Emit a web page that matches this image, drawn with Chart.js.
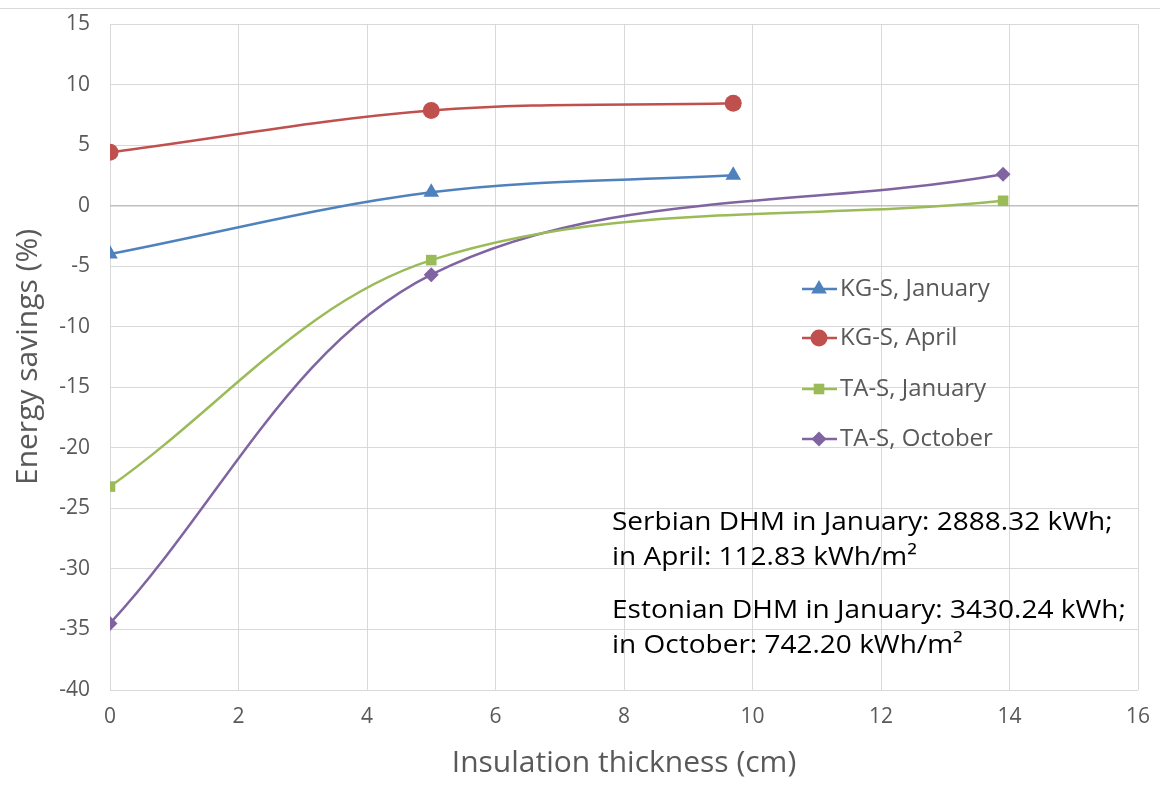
<!DOCTYPE html>
<html>
<head>
<meta charset="utf-8">
<script src="https://cdn.jsdelivr.net/npm/chart.js@4.4.0/dist/chart.umd.min.js"></script>
<style>
  html, body { margin: 0; padding: 0; background: #fff; }
  #wrap { width: 1160px; height: 785px; position: relative; }
</style>
</head>
<body>
<div id="wrap"><canvas id="myChart" width="1160" height="785"></canvas></div>
<script>
// thickness values (cm) for each study
var kgThickness = [0, 5, 9.7];
var taThickness = [0, 5, 13.9];

// energy savings (%)
var kgJanuary = [-4.0, 1.1, 2.5];
var kgApril = [4.4, 7.85, 8.45];
var taJanuary = [-23.2, -4.5, 0.4];
var taOctober = [-34.5, -5.7, 2.6];

var seriesNames = ["KG-S, January", "KG-S, April", "TA-S, January", "TA-S, October"];

var xTicks = [0, 2, 4, 6, 8, 10, 12, 14, 16];
var yTicks = [-40, -35, -30, -25, -20, -15, -10, -5, 0, 5, 10, 15];

var noteLines = [
    "Serbian DHM in January: 2888.32 kWh;",
    "in April: 112.83 kWh/m\u00b2",
    "Estonian DHM in January: 3430.24 kWh;",
    "in October: 742.20 kWh/m\u00b2"
];

function pairs(xs, ys) {
    return xs.map(function (x, i) { return { x: x, y: ys[i] }; });
}

function makeSet(label, xs, ys, color, style, radius) {
    return {
        label: label,
        data: pairs(xs, ys),
        borderColor: color,
        backgroundColor: color,
        borderWidth: 2.5,
        pointStyle: style,
        pointRadius: radius,
        pointHoverRadius: radius,
        pointBorderWidth: 0,
        tension: 0.35,
        fill: false
    };
}

var datasets = [
    makeSet(seriesNames[0], kgThickness, kgJanuary, "#4F81BD", "triangle", 9),
    makeSet(seriesNames[1], kgThickness, kgApril, "#C0504D", "circle", 8.5),
    makeSet(seriesNames[2], taThickness, taJanuary, "#9BBB59", "rect", 7.5),
    makeSet(seriesNames[3], taThickness, taOctober, "#8064A2", "rectRot", 7.5)
];

var fontFamily = "'Open Sans', 'Noto Sans', sans-serif";

// legend and notes drawn inside the plot, like the original
var insideLegend = {
    id: "insideLegend",
    afterDatasetsDraw: function (chart) {
        var ctx = chart.ctx;
        var rows = [289, 338, 389, 439];
        ctx.save();
        chart.data.datasets.forEach(function (ds, i) {
            var y = rows[i];
            ctx.strokeStyle = ds.borderColor;
            ctx.lineWidth = 2.5;
            ctx.beginPath();
            ctx.moveTo(802, y);
            ctx.lineTo(837, y);
            ctx.stroke();
            ctx.fillStyle = ds.backgroundColor;
            Chart.helpers.drawPoint(ctx, {
                pointStyle: ds.pointStyle,
                radius: ds.pointRadius,
                borderWidth: 0,
                rotation: 0
            }, 819, y);
            ctx.fillStyle = "#595959";
            ctx.font = "24px " + fontFamily;
            ctx.textBaseline = "middle";
            ctx.textAlign = "left";
            ctx.fillText(ds.label, 840, y);
        });

        ctx.fillStyle = "#000";
        ctx.font = "25px " + fontFamily;
        var noteY = [523, 558, 611, 646];
        noteLines.forEach(function (t, i) {
            ctx.save();
            ctx.translate(612, noteY[i]);
            ctx.scale(1.12, 1);
            ctx.fillText(t, 0, 0);
            ctx.restore();
        });

        // thin frame line at the top of the figure
        ctx.strokeStyle = "#d9d9d9";
        ctx.lineWidth = 1;
        ctx.beginPath();
        ctx.moveTo(0, 8.5);
        ctx.lineTo(1160, 8.5);
        ctx.stroke();
        ctx.restore();
    }
};

var ctx = document.getElementById("myChart").getContext("2d");
var myChart = new Chart(ctx, {
    type: "line",
    data: { datasets: datasets },
    options: {
        responsive: false,
        animation: false,
        layout: { padding: { top: 24, right: 22, left: 0, bottom: 0 } },
        plugins: {
            legend: { display: false },
            tooltip: { enabled: false }
        },
        scales: {
            x: {
                type: "linear",
                min: 0,
                max: 16,
                afterBuildTicks: function (scale) {
                    scale.ticks = xTicks.map(function (v) { return { value: v }; });
                },
                afterFit: function (scale) {
                    scale.height = 95;
                    scale.paddingLeft = 0;
                    scale.paddingRight = 0;
                },
                grid: {
                    color: "#d9d9d9",
                    lineWidth: 1,
                    drawTicks: false
                },
                border: { display: false },
                ticks: {
                    color: "#595959",
                    font: { size: 21, family: fontFamily },
                    padding: 14,
                    maxRotation: 0
                },
                title: {
                    display: true,
                    text: "Insulation thickness (cm)",
                    color: "#595959",
                    font: { size: 30, family: fontFamily },
                    padding: { top: 6 }
                }
            },
            y: {
                min: -40,
                max: 15,
                afterBuildTicks: function (scale) {
                    scale.ticks = yTicks.map(function (v) { return { value: v }; });
                },
                afterFit: function (scale) {
                    scale.width = 110;
                    scale.paddingTop = 0;
                    scale.paddingBottom = 0;
                },
                grid: {
                    color: function (c) { return c.tick && c.tick.value === 0 ? "#bfbfbf" : "#d9d9d9"; },
                    lineWidth: function (c) { return c.tick && c.tick.value === 0 ? 1.5 : 1; },
                    drawTicks: false
                },
                border: { display: false },
                ticks: {
                    color: "#595959",
                    font: { size: 21, family: fontFamily },
                    padding: 20
                },
                title: {
                    display: true,
                    text: "Energy savings (%)",
                    color: "#595959",
                    font: { size: 30, family: fontFamily },
                    padding: { top: 10, bottom: 4 }
                }
            }
        }
    },
    plugins: [insideLegend]
});
</script>
</body>
</html>
